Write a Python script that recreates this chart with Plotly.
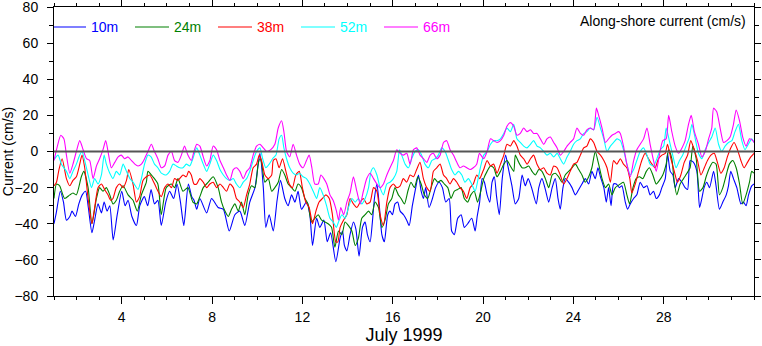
import plotly.graph_objects as go

# Along-shore current, July 1999, at five depths (day of month, cm/s)
days_10m = [1.00, 1.10, 1.28, 1.42, 1.55, 1.70, 1.80, 1.95, 2.10, 2.25, 2.40, 2.52, 2.68, 2.80, 2.95, 3.10, 3.22, 3.35, 3.47, 3.62,
            3.80, 4.00, 4.15, 4.28, 4.45, 4.65, 4.80, 5.00, 5.15, 5.30, 5.45, 5.60, 5.75, 5.95, 6.12, 6.30, 6.45, 6.60, 6.75, 6.95,
            7.10, 7.20, 7.32, 7.46, 7.76, 7.98, 8.27, 8.50, 8.76, 9.01, 9.23, 9.45, 9.67, 9.90, 10.12, 10.27, 10.38, 10.53, 10.71, 10.88,
            11.03, 11.22, 11.37, 11.52, 11.67, 11.81, 11.96, 12.18, 12.33, 12.45, 12.63, 12.77, 12.95, 13.10, 13.25, 13.48, 13.67, 13.78, 13.86, 13.97,
            14.11, 14.26, 14.37, 14.51, 14.66, 14.78, 14.88, 15.00, 15.10, 15.19, 15.30, 15.40, 15.52, 15.63, 15.78, 15.88, 15.99, 16.10, 16.22, 16.33,
            16.48, 16.62, 16.73, 16.87, 17.02, 17.14, 17.26, 17.36, 17.46, 17.61, 17.76, 17.90, 18.05, 18.20, 18.35, 18.50, 18.61, 18.73, 18.88, 19.03,
            19.17, 19.32, 19.50, 19.65, 19.74, 19.85, 19.96, 20.06, 20.18, 20.30, 20.40, 20.50, 20.60, 20.72, 20.85, 21.00, 21.10, 21.28, 21.43, 21.58,
            21.73, 21.87, 22.00, 22.15, 22.36, 22.47, 22.61, 22.76, 22.91, 23.06, 23.20, 23.32, 23.42, 23.54, 23.64, 23.79, 23.94, 24.09, 24.24, 24.38,
            24.53, 24.68, 24.82, 24.97, 25.09, 25.20, 25.35, 25.46, 25.56, 25.67, 25.78, 25.90, 26.04, 26.15, 26.30, 26.40, 26.52, 26.67, 26.81, 26.96,
            27.11, 27.26, 27.40, 27.55, 27.67, 27.81, 27.92, 28.07, 28.17, 28.29, 28.41, 28.51, 28.66, 28.81, 28.95, 29.06, 29.17, 29.32, 29.47, 29.59,
            29.69, 29.79, 29.91, 30.03, 30.21, 30.32, 30.47, 30.62, 30.77, 30.87, 30.97, 31.09, 31.24, 31.42, 31.53, 31.65, 31.76, 31.90, 32.00]
cur_10m = [-40, -34, -22, -28, -38, -36, -33, -36, -29, -24, -22, -31, -45, -38, -29, -34, -28, -33, -30, -49,
           -35, -22, -30, -27, -36, -41, -30, -25, -30, -21, -29, -27, -41, -28, -22, -26, -18, -28, -41, -18,
           -25, -27, -32, -26, -34, -26, -31, -32, -44, -35, -33, -41, -28, -20, -1, -20, -42, -35, -44, -27,
           -16, -26, -30, -24, -28, -22, -32, -28, -35, -52, -37, -42, -38, -50, -45, -61, -48, -44, -52, -55,
           -46, -39, -43, -58, -42, -39, -46, -50, -39, -26, -18, -29, -46, -50, -35, -33, -35, -29, -28, -33,
           -35, -38, -41, -30, -20, -13, -22, -26, -20, -31, -26, -20, -17, -20, -28, -26, -44, -46, -37, -35,
           -42, -40, -37, -44, -36, -28, -15, -17, -24, -28, -17, -14, -25, -35, -15, -2, -8, -19, -29, -26,
           -13, -19, -15, -20, -29, -20, -15, -21, -28, -20, -15, -26, -32, -20, -15, -17, -20, -24, -21, -18,
           -15, -18, -11, -15, -9, -14, -20, -28, -20, -30, -18, -18, -20, -19, -28, -32, -29, -26, -24, -17,
           -20, -19, -24, -22, -26, -24, -20, -15, -1, -11, -13, -20, -15, -17, -20, -21, -5, -6, -11, -31,
           -26, -20, -17, -20, -11, -19, -32, -28, -24, -19, -11, -15, -20, -29, -28, -30, -24, -19, -18]

days_24m = [1.00, 1.11, 1.25, 1.47, 1.70, 1.84, 1.99, 2.21, 2.32, 2.51, 2.68, 2.88, 3.02, 3.17, 3.32, 3.47, 3.61, 3.76, 3.91, 4.06,
            4.28, 4.50, 4.69, 4.87, 5.09, 5.16, 5.38, 5.60, 5.75, 5.97, 6.20, 6.34, 6.49, 6.71, 6.93, 7.15, 7.32, 7.46, 7.61, 7.83,
            8.05, 8.27, 8.42, 8.57, 8.72, 8.86, 9.01, 9.16, 9.30, 9.45, 9.60, 9.75, 9.90, 10.04, 10.12, 10.19, 10.34, 10.49, 10.64, 10.78,
            10.93, 11.08, 11.22, 11.37, 11.52, 11.67, 11.81, 11.96, 12.11, 12.25, 12.40, 12.55, 12.70, 12.85, 13.00, 13.14, 13.29, 13.44, 13.60, 13.75,
            13.89, 14.04, 14.19, 14.34, 14.48, 14.63, 14.78, 14.93, 15.07, 15.22, 15.37, 15.52, 15.66, 15.81, 15.96, 16.10, 16.25, 16.37, 16.52, 16.67,
            16.81, 16.96, 17.11, 17.26, 17.40, 17.55, 17.70, 17.85, 18.00, 18.14, 18.29, 18.44, 18.58, 18.73, 18.88, 19.03, 19.17, 19.32, 19.46, 19.61,
            19.76, 19.90, 20.03, 20.18, 20.33, 20.47, 20.62, 20.77, 20.92, 21.06, 21.21, 21.36, 21.43, 21.58, 21.73, 21.87, 22.02, 22.17, 22.32, 22.47,
            22.61, 22.76, 22.91, 23.06, 23.20, 23.35, 23.50, 23.64, 23.79, 23.94, 24.09, 24.24, 24.38, 24.53, 24.68, 24.82, 24.97, 25.12, 25.27, 25.42,
            25.56, 25.71, 25.86, 26.08, 26.22, 26.37, 26.49, 26.64, 26.78, 26.93, 27.08, 27.23, 27.37, 27.52, 27.67, 27.81, 27.96, 28.11, 28.22, 28.36,
            28.47, 28.58, 28.73, 28.88, 29.03, 29.17, 29.29, 29.44, 29.59, 29.74, 29.88, 30.03, 30.18, 30.32, 30.47, 30.62, 30.77, 30.91, 31.06, 31.21,
            31.36, 31.50, 31.65, 31.80, 31.90, 32.00]
cur_24m = [-26, -18, -19, -26, -24, -23, -24, -14, -11, -20, -40, -26, -20, -22, -20, -24, -29, -27, -22, -19,
           -24, -27, -33, -24, -17, -11, -14, -18, -35, -20, -18, -20, -15, -22, -20, -28, -29, -25, -20, -17,
           -14, -20, -28, -33, -36, -32, -29, -33, -28, -35, -24, -19, -20, -7, -4, -6, -17, -15, -22, -20,
           -17, -10, -13, -18, -20, -22, -18, -20, -26, -29, -39, -37, -35, -38, -39, -40, -42, -53, -44, -46,
           -39, -41, -44, -52, -48, -37, -35, -33, -35, -28, -31, -42, -38, -29, -26, -20, -24, -26, -29, -22,
           -17, -20, -14, -18, -24, -26, -20, -15, -17, -16, -18, -20, -26, -22, -21, -20, -26, -28, -24, -22,
           -28, -22, -15, -11, -8, -9, -14, -11, -7, -5, -8, -11, -2, -6, -9, -9, -8, -11, -13, -10,
           -11, -15, -20, -13, -12, -14, -17, -13, -11, -9, -7, -10, -13, -17, -14, -9, 0, -7, -15, -20,
           -18, -24, -20, -18, -17, -24, -29, -20, -15, -14, -15, -11, -9, -13, -18, -16, -13, -7, 1, -4,
           -17, -24, -18, -15, -12, -9, 3, -4, -22, -20, -14, -9, -6, -7, -24, -20, -13, -7, -5, -9,
           -18, -29, -24, -17, -11, -12]

days_38m = [1.00, 1.11, 1.22, 1.36, 1.55, 1.70, 1.84, 1.99, 2.14, 2.24, 2.36, 2.51, 2.68, 2.80, 2.95, 3.10, 3.24, 3.39, 3.51, 3.61,
            3.76, 3.91, 4.06, 4.21, 4.31, 4.50, 4.65, 4.79, 4.94, 5.09, 5.24, 5.38, 5.53, 5.75, 5.90, 6.05, 6.20, 6.34, 6.49, 6.71,
            6.86, 6.96, 7.08, 7.20, 7.32, 7.46, 7.61, 7.76, 7.90, 8.05, 8.20, 8.35, 8.50, 8.64, 8.79, 8.94, 9.08, 9.23, 9.38, 9.53,
            9.67, 9.82, 9.97, 10.09, 10.19, 10.34, 10.49, 10.64, 10.71, 10.83, 10.97, 11.12, 11.27, 11.42, 11.56, 11.71, 11.86, 12.00, 12.15, 12.30,
            12.45, 12.60, 12.74, 12.89, 13.04, 13.19, 13.33, 13.48, 13.57, 13.67, 13.82, 13.97, 14.11, 14.26, 14.41, 14.56, 14.70, 14.85, 15.00, 15.15,
            15.30, 15.44, 15.59, 15.74, 15.88, 16.03, 16.18, 16.33, 16.47, 16.62, 16.77, 16.92, 17.06, 17.21, 17.36, 17.51, 17.66, 17.80, 17.95, 18.10,
            18.25, 18.39, 18.54, 18.69, 18.84, 18.98, 19.13, 19.28, 19.43, 19.57, 19.72, 19.85, 19.96, 20.03, 20.18, 20.33, 20.47, 20.62, 20.77, 20.92,
            21.06, 21.21, 21.36, 21.50, 21.65, 21.80, 21.95, 22.10, 22.24, 22.39, 22.54, 22.69, 22.83, 22.98, 23.13, 23.28, 23.42, 23.57, 23.72, 23.86,
            24.01, 24.16, 24.31, 24.46, 24.60, 24.75, 24.90, 25.05, 25.20, 25.35, 25.49, 25.64, 25.78, 25.93, 26.08, 26.22, 26.37, 26.50, 26.59, 26.74,
            26.89, 27.03, 27.18, 27.33, 27.48, 27.62, 27.77, 27.92, 28.07, 28.17, 28.32, 28.47, 28.61, 28.76, 28.91, 29.06, 29.20, 29.35, 29.50, 29.65,
            29.80, 29.94, 30.09, 30.24, 30.38, 30.53, 30.68, 30.82, 30.97, 31.12, 31.27, 31.42, 31.56, 31.71, 31.86, 32.00]
cur_38m = [-19, -17, -10, -4, -15, -19, -16, -14, -7, -2, -9, -26, -40, -31, -20, -18, -21, -24, -27, -26,
           -20, -18, -20, -16, -10, -18, -28, -25, -16, -14, -13, -16, -20, -25, -20, -18, -20, -15, -16, -13,
           -14, -11, -13, -18, -18, -15, -17, -20, -18, -17, -20, -18, -20, -22, -18, -20, -26, -28, -31, -24,
           -18, -9, -7, -2, -5, -13, -15, -13, -5, -4, -9, -4, -11, -18, -20, -13, -11, -20, -28, -31,
           -40, -33, -28, -26, -24, -26, -35, -50, -50, -42, -38, -35, -26, -29, -31, -28, -26, -29, -28, -20,
           -22, -35, -41, -28, -20, -18, -20, -19, -15, -17, -13, -14, -10, -6, -15, -20, -22, -11, -9, -7,
           -13, -15, -18, -15, -17, -20, -22, -26, -20, -18, -13, -15, -12, -10, -5, -8, -7, -12, -7, -2,
           4, 3, 6, 3, -2, -4, -7, -4, -2, -7, -10, -9, -12, -13, -8, -9, -13, -18, -15, -11,
           -7, -6, -2, 2, 3, 7, 5, 0, -2, -5, -9, -17, -5, -7, -4, -7, -9, -15, -23, -18,
           -11, -5, -1, -4, -7, -9, -4, -2, -1, 4, -4, -11, -17, -13, -6, -2, 6, 1, -5, -13,
           -9, -5, -2, -1, -6, -12, -9, -3, 2, 5, 1, -5, -9, -6, -3, -1]

days_52m = [1.00, 1.18, 1.33, 1.55, 1.70, 1.84, 1.99, 2.14, 2.24, 2.36, 2.51, 2.66, 2.80, 2.95, 3.10, 3.22, 3.32, 3.47, 3.61, 3.76,
            3.91, 4.06, 4.21, 4.36, 4.50, 4.72, 4.87, 5.01, 5.16, 5.30, 5.45, 5.60, 5.75, 5.97, 6.12, 6.27, 6.42, 6.57, 6.71, 6.86,
            7.01, 7.15, 7.32, 7.46, 7.61, 7.76, 7.90, 8.05, 8.20, 8.35, 8.50, 8.64, 8.79, 8.94, 9.08, 9.23, 9.38, 9.53, 9.67, 9.82,
            9.97, 10.12, 10.24, 10.38, 10.53, 10.68, 10.83, 10.97, 11.08, 11.18, 11.30, 11.44, 11.59, 11.74, 11.88, 12.03, 12.18, 12.33, 12.48, 12.63,
            12.77, 12.92, 13.07, 13.22, 13.36, 13.50, 13.60, 13.75, 13.89, 14.04, 14.19, 14.34, 14.48, 14.63, 14.78, 14.93, 15.04, 15.15, 15.30, 15.44,
            15.59, 15.74, 15.88, 16.03, 16.18, 16.30, 16.40, 16.55, 16.70, 16.84, 16.99, 17.14, 17.28, 17.43, 17.58, 17.73, 17.88, 18.02, 18.17, 18.32,
            18.47, 18.61, 18.76, 18.91, 19.06, 19.20, 19.35, 19.50, 19.65, 19.80, 19.90, 20.03, 20.18, 20.33, 20.47, 20.62, 20.77, 20.92, 21.06, 21.21,
            21.36, 21.50, 21.65, 21.80, 21.95, 22.10, 22.24, 22.39, 22.54, 22.69, 22.83, 22.98, 23.13, 23.28, 23.42, 23.57, 23.72, 23.86, 24.01, 24.16,
            24.31, 24.46, 24.60, 24.75, 24.90, 25.05, 25.20, 25.35, 25.49, 25.64, 25.78, 25.93, 26.08, 26.22, 26.37, 26.52, 26.67, 26.81, 26.96, 27.11,
            27.26, 27.40, 27.55, 27.70, 27.85, 28.00, 28.11, 28.25, 28.40, 28.55, 28.70, 28.84, 28.99, 29.14, 29.25, 29.40, 29.54, 29.69, 29.84, 29.99,
            30.13, 30.28, 30.43, 30.57, 30.72, 30.87, 31.02, 31.16, 31.31, 31.46, 31.60, 31.75, 31.90, 32.00]
cur_52m = [-4.5, -2, -7, -11, -15, -11, -7, -2, 0, -5, -13, -20, -15, -18, -13, -2, -7, -12, -15, -11,
           -13, -7, -11, -15, -17, -21, -15, -7, -2, -3, -7, -9, -12, -13, -11, -7, -8, -9, -9, -7,
           -8, -4, 2, -2, -7, -11, -7, -2, -5, -10, -13, -15, -16, -15, -18, -20, -17, -15, -11, -5,
           0, 2, -4, -9, -7, -4, -2, 7, 9, 2, -4, -9, -12, -13, -12, -14, -15, -18, -22, -26,
           -20, -24, -30, -37, -39, -42, -39, -35, -37, -31, -26, -28, -26, -29, -26, -20, -11, -9, -13, -20,
           -24, -18, -17, -15, -11, 1, -2, -7, -9, -4, 0, 1, -2, -7, -9, -5, -4, -2, 2, 0,
           -5, -10, -13, -11, -13, -17, -15, -18, -22, -14, -8, -2, 0, 4, 6, 6, 7, 10, 13, 11,
           15, 7, 5, 3, 2, 4, 6, 3, 2, 0, -2, -1, -3, -1, -4, -7, -3, 0, 4, 6,
           7, 10, 11, 13, 12, 19, 13, 7, 0, 3, 5, 7, 6, 1, -7, -13, -10, -5, 0, 2,
           -2, -7, -8, -4, 1, 3, 13, 6, -2, -9, -5, -2, 3, 8, 15, 7, -1, -4, 1, 5,
           8, 13, 4, 0, 3, 5, 6, 11, 15, 6, 1, 4, 7, 5]

days_66m = [1.00, 1.15, 1.30, 1.44, 1.55, 1.70, 1.84, 1.99, 2.14, 2.29, 2.44, 2.58, 2.73, 2.88, 3.02, 3.17, 3.29, 3.42, 3.54, 3.69,
            3.84, 3.98, 4.13, 4.28, 4.43, 4.58, 4.72, 4.87, 5.01, 5.16, 5.31, 5.45, 5.60, 5.75, 5.90, 6.05, 6.20, 6.34, 6.49, 6.64,
            6.78, 6.93, 7.08, 7.20, 7.32, 7.46, 7.61, 7.76, 7.90, 8.05, 8.20, 8.35, 8.50, 8.64, 8.79, 8.94, 9.08, 9.23, 9.38, 9.53,
            9.67, 9.82, 9.97, 10.12, 10.27, 10.42, 10.60, 10.78, 10.93, 11.08, 11.18, 11.30, 11.44, 11.59, 11.74, 11.88, 12.03, 12.18, 12.30, 12.42,
            12.55, 12.70, 12.82, 12.95, 13.08, 13.22, 13.36, 13.51, 13.60, 13.70, 13.83, 13.97, 14.11, 14.26, 14.41, 14.56, 14.70, 14.85, 15.00, 15.15,
            15.30, 15.44, 15.59, 15.74, 15.88, 16.03, 16.18, 16.33, 16.47, 16.62, 16.77, 16.92, 17.06, 17.21, 17.36, 17.51, 17.66, 17.80, 17.95, 18.10,
            18.25, 18.39, 18.54, 18.69, 18.84, 18.98, 19.13, 19.28, 19.43, 19.57, 19.72, 19.84, 19.96, 20.03, 20.18, 20.33, 20.47, 20.62, 20.77, 20.92,
            21.06, 21.21, 21.36, 21.50, 21.65, 21.80, 21.95, 22.10, 22.24, 22.39, 22.54, 22.69, 22.83, 22.98, 23.13, 23.28, 23.42, 23.57, 23.72, 23.86,
            24.01, 24.16, 24.31, 24.46, 24.60, 24.75, 24.90, 25.02, 25.12, 25.27, 25.42, 25.56, 25.71, 25.86, 26.00, 26.08, 26.22, 26.37, 26.52, 26.67,
            26.81, 26.96, 27.11, 27.26, 27.40, 27.55, 27.67, 27.81, 27.96, 28.11, 28.22, 28.36, 28.51, 28.66, 28.81, 28.95, 29.10, 29.22, 29.36, 29.54,
            29.69, 29.84, 29.99, 30.13, 30.21, 30.35, 30.50, 30.65, 30.80, 30.94, 31.09, 31.21, 31.36, 31.50, 31.65, 31.80, 31.95, 32.00]
cur_66m = [-5, 3, 9, 7, -2, -12, -7, 0, 6, 1, -4, -5, -15, -8, -4, 1, 6, -2, -9, -6,
           -3, -2, -4, -3, -5, -7, -8, -7, -4, 0, 4, 0, -4, -9, -8, -2, 0, -5, -6, -2,
           3, -2, -5, 0, 4, 3, -3, -8, -5, 3, 1, -5, -9, -13, -16, -10, -9, -11, -15, -11,
           -9, -2, 3, 4, 2, 0, 1, 4, 13, 17, 11, 0, -3, 4, -2, -7, -9, -5, -2, -9,
           -18, -18, -13, -15, -18, -24, -27, -33, -38, -31, -35, -28, -23, -14, -22, -29, -22, -15, -12, -15,
           -18, -20, -18, -13, -9, -5, 1, -1, -2, -1, -7, 1, 2, -2, -4, -6, -2, -1, -4, -2,
           5, 6, 1, -2, -6, -9, -8, -9, -10, -9, -7, -1, -3, -4, 0, 7, 6, 5, 6, 9,
           14, 16, 14, 9, 10, 13, 11, 12, 10, 10, 7, 4, 7, 8, 5, 2, -2, 0, 3, 5,
           7, 13, 10, 9, 12, 13, 12, 24, 20, 13, 5, 7, 9, 10, 11, 10, 3, -7, -14, -5,
           1, 4, 7, 13, 4, -5, -11, -2, 6, 7, 20, 11, 3, -1, 2, 6, 15, 20, 11, 4,
           -3, 0, 7, 13, 24, 22, 13, 5, 6, 8, 15, 23, 17, 8, 3, 7, 6, 5]

series = [
    ("10m", "#0000ff", days_10m, cur_10m),
    ("24m", "#008000", days_24m, cur_24m),
    ("38m", "#ff0000", days_38m, cur_38m),
    ("52m", "#00ffff", days_52m, cur_52m),
    ("66m", "#ff00ff", days_66m, cur_66m),
]

day_ticks = [4, 8, 12, 16, 20, 24, 28]
FONT = "Liberation Sans, Arial, Helvetica, sans-serif"

fig = go.Figure()
for name, color, d, v in series:
    fig.add_trace(go.Scatter(
        x=d, y=v, mode="lines",
        line=dict(color=color, width=1.1, shape="spline", smoothing=0.6),
        name=f'<span style="color:{color}">{name}</span>',
    ))

# zero reference line drawn over the traces
fig.add_shape(type="line", xref="paper", x0=0, x1=1, yref="y", y0=0, y1=0,
              line=dict(color="#555555", width=2), layer="above")

fig.add_annotation(text="Along-shore current (cm/s)", xref="paper", yref="paper",
                   x=1, y=1, xanchor="right", yanchor="top", xshift=-6, yshift=-4,
                   showarrow=False, font=dict(size=14, color="black", family=FONT))

axis_common = dict(showline=True, linecolor="black", linewidth=1, mirror="ticks",
                   ticks="outside", tickcolor="black", showgrid=False, zeroline=False,
                   automargin=False, ticklabeloverflow="allow")

fig.update_layout(
    width=762, height=346,
    margin=dict(l=54, r=8, t=7, b=50),
    paper_bgcolor="white", plot_bgcolor="white",
    font=dict(family=FONT, size=14, color="black"),
    showlegend=True,
    legend=dict(orientation="h", x=0, y=0.985, xanchor="left", yanchor="top",
                bgcolor="rgba(0,0,0,0)", font=dict(size=14), indentation=-7,
                entrywidth=41, entrywidthmode="pixels", itemwidth=34),
    xaxis=dict(range=[1, 32], tickmode="array", tickvals=day_ticks,
               ticklen=7, ticklabelstandoff=1,
               minor=dict(dtick=1, tick0=0, ticklen=3, ticks="outside", tickcolor="black"),
               title=dict(text="July 1999", font=dict(size=18), standoff=0),
               tickfont=dict(size=14), **axis_common),
    yaxis=dict(range=[-80, 80], dtick=20, ticklen=6, ticklabelstandoff=6,
               minor=dict(dtick=10, ticklen=4, ticks="outside", tickcolor="black"),
               title=dict(text="Current (cm/s)", font=dict(size=14), standoff=6),
               tickfont=dict(size=14), **axis_common),
)

fig.write_html("out.html")
